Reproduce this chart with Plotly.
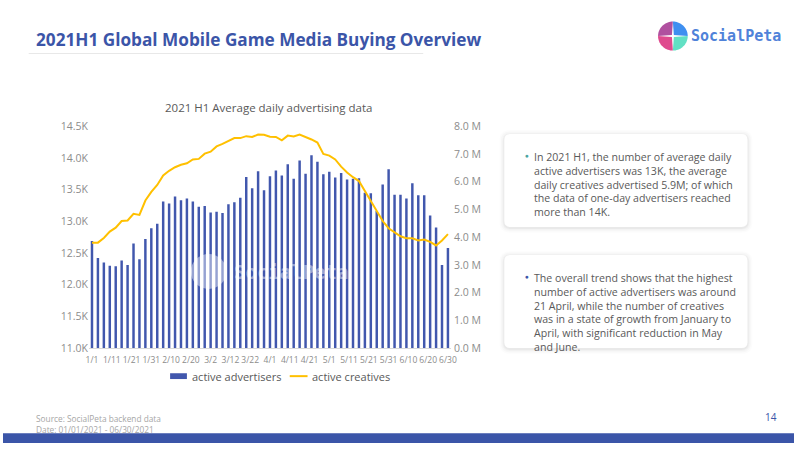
import math
import plotly.graph_objects as go

# ---------------- data ----------------
dates = [
    "2021-01-01", "2021-01-04", "2021-01-07", "2021-01-10", "2021-01-13", "2021-01-16",
    "2021-01-19", "2021-01-22", "2021-01-25", "2021-01-28", "2021-01-31",
    "2021-02-03", "2021-02-06", "2021-02-09", "2021-02-12", "2021-02-15", "2021-02-18",
    "2021-02-21", "2021-02-24", "2021-02-27",
    "2021-03-02", "2021-03-05", "2021-03-08", "2021-03-11", "2021-03-14", "2021-03-17",
    "2021-03-20", "2021-03-23", "2021-03-26", "2021-03-29",
    "2021-04-01", "2021-04-04", "2021-04-07", "2021-04-10", "2021-04-13", "2021-04-16",
    "2021-04-19", "2021-04-22", "2021-04-25", "2021-04-28",
    "2021-05-01", "2021-05-04", "2021-05-07", "2021-05-10", "2021-05-13", "2021-05-16",
    "2021-05-19", "2021-05-22", "2021-05-25", "2021-05-28", "2021-05-31",
    "2021-06-03", "2021-06-06", "2021-06-09", "2021-06-12", "2021-06-15", "2021-06-18",
    "2021-06-21", "2021-06-24", "2021-06-27", "2021-06-30",
]

active_advertisers = [
    12690, 12420, 12350, 12300, 12290, 12380, 12310, 12650, 12400, 12720,
    12890, 12960, 13310, 13280, 13390, 13330, 13360, 13310, 13230, 13240,
    13140, 13150, 13130, 13270, 13300, 13370, 13700, 13520, 13790, 13490,
    13710, 13800, 13720, 13900, 13670, 13960, 13750, 14040, 13940, 13740,
    13780, 13690, 13760, 13660, 13670, 13680, 13450, 13440, 13160, 13580,
    13820, 13420, 13420, 13360, 13600, 13410, 13410, 13090, 12900, 12310,
    12580,
]

# millions
active_creatives = [
    3.80, 3.80, 3.97, 4.20, 4.34, 4.58, 4.60, 4.84, 4.80, 5.32,
    5.63, 5.88, 6.22, 6.39, 6.52, 6.61, 6.66, 6.80, 6.82, 7.01,
    7.08, 7.27, 7.36, 7.48, 7.57, 7.57, 7.64, 7.61, 7.70, 7.69,
    7.62, 7.61, 7.49, 7.66, 7.63, 7.70, 7.62, 7.52, 7.41, 7.00,
    6.94, 6.80, 6.54, 6.33, 6.16, 6.02, 5.66, 5.31, 4.96, 4.58,
    4.32, 4.17, 4.03, 3.96, 3.96, 3.88, 3.91, 3.83, 3.70, 3.88,
    4.11,
]

tick_dates = [
    "2021-01-01", "2021-01-11", "2021-01-21", "2021-01-31", "2021-02-10", "2021-02-20",
    "2021-03-02", "2021-03-12", "2021-03-22", "2021-04-01", "2021-04-11", "2021-04-21",
    "2021-05-01", "2021-05-11", "2021-05-21", "2021-05-31", "2021-06-10", "2021-06-20",
    "2021-06-30",
]
tick_labels = [
    "1/1", "1/11", "1/21", "1/31", "2/10", "2/20", "3/2", "3/12", "3/22", "4/1",
    "4/11", "4/21", "5/1", "5/11", "5/21", "5/31", "6/10", "6/20", "6/30",
]

left_ticks = [11000, 11500, 12000, 12500, 13000, 13500, 14000, 14500]
left_labels = ["11.0K", "11.5K", "12.0K", "12.5K", "13.0K", "13.5K", "14.0K", "14.5K"]
right_ticks = [0, 1, 2, 3, 4, 5, 6, 7, 8]
right_labels = ["0.0 M", "1.0 M", "2.0 M", "3.0 M", "4.0 M", "5.0 M", "6.0 M", "7.0 M", "8.0 M"]

series_names = ["active advertisers", "active creatives"]

page_title = "2021H1 Global Mobile Game Media Buying Overview"
chart_title = "2021 H1 Average daily advertising data"
box1_lines = [
    "In 2021 H1, the number of average daily",
    "active advertisers was 13K, the average",
    "daily creatives advertised 5.9M; of which",
    "the data of one-day advertisers reached",
    "more than 14K.",
]
box2_lines = [
    "The overall trend shows that the highest",
    "number of active advertisers was around",
    "21 April, while the number of creatives",
    "was in a state of growth from January to",
    "April, with significant reduction in May",
    "and June.",
]
footer_lines = ["Source: SocialPeta backend data", "Date: 01/01/2021 - 06/30/2021"]
page_number = "14"

# ---------------- styling ----------------
W, H = 800, 450
BLUE = "#3b55a8"
BAR = "#4157ad"
GOLD = "#FFC000"
GRAY_TXT = "#8c8c8c"
TXT = "#595959"
FONT = "Open Sans"


def px(x):
    return x / W


def py(y):
    return 1 - y / H


fig = go.Figure()
fig.add_trace(go.Bar(
    x=dates, y=active_advertisers, name=series_names[0],
    marker=dict(color=BAR, line=dict(width=0)),
    width=1.25 * 86400000, yaxis="y",
))
fig.add_trace(go.Scatter(
    x=dates, y=active_creatives, name=series_names[1], mode="lines",
    line=dict(color=GOLD, width=2), yaxis="y2",
))

shapes = []
annotations = []


def rrect(x0, y0, x1, y1, r, fill):
    rx, ry = r / W, r / H
    X0, X1 = px(x0), px(x1)
    Y0, Y1 = py(y0), py(y1)  # Y0 top, Y1 bottom
    path = (f"M {X0+rx},{Y0} L {X1-rx},{Y0} Q {X1},{Y0} {X1},{Y0-ry} "
            f"L {X1},{Y1+ry} Q {X1},{Y1} {X1-rx},{Y1} L {X0+rx},{Y1} "
            f"Q {X0},{Y1} {X0},{Y1+ry} L {X0},{Y0-ry} Q {X0},{Y0} {X0+rx},{Y0} Z")
    return dict(type="path", xref="paper", yref="paper", path=path,
                fillcolor=fill, line=dict(width=0), layer="below")


# title + underline
shapes.append(dict(type="line", xref="paper", yref="paper", x0=px(26), x1=px(425),
                   y0=py(48), y1=py(48), line=dict(color="#e8e8e8", width=1)))
annotations.append(dict(x=px(31), y=py(34), xref="paper", yref="paper", xanchor="left",
                        yanchor="middle", showarrow=False, text=f"<b>{page_title}</b>",
                        font=dict(family=FONT, size=17.2, color=BLUE)))

# logo
cx, cy, r = 677.5, 30, 15
quad = [(180, 270, "#b0509f"), (270, 360, "#3f8ff0"), (90, 180, "#df4a8e"), (0, 90, "#62e0c4")]
for a0, a1, col in quad:
    mid = math.radians((a0 + a1) / 2)
    ox, oy = cx + 1.4 * math.cos(mid), cy + 1.4 * math.sin(mid)
    pts = [(ox, oy)]
    for k in range(0, 19):
        a = math.radians(a0 + (a1 - a0) * k / 18)
        pts.append((cx + r * math.cos(a), cy + r * math.sin(a)))
    p = "M " + " L ".join(f"{px(x)},{py(y)}" for x, y in pts) + " Z"
    shapes.append(dict(type="path", xref="paper", yref="paper", path=p,
                       fillcolor=col, line=dict(width=0)))
annotations.append(dict(x=px(694), y=py(30), xref="paper", yref="paper", xanchor="left",
                        yanchor="middle", showarrow=False, text="<b>SocialPeta</b>",
                        font=dict(family="DejaVu Sans Mono", size=15, color="#4f82d9")))

# chart title
annotations.append(dict(x=px(269), y=py(104), xref="paper", yref="paper", xanchor="center",
                        yanchor="middle", showarrow=False, text=chart_title,
                        font=dict(family=FONT, size=11.5, color=TXT)))

# legend (drawn by hand to match the original placement)
shapes.append(dict(type="rect", xref="paper", yref="paper", x0=px(169), x1=px(186),
                   y0=py(384), y1=py(378), fillcolor=BAR, line=dict(width=0)))
annotations.append(dict(x=px(189), y=py(381), xref="paper", yref="paper", xanchor="left",
                        yanchor="middle", showarrow=False, text=series_names[0],
                        font=dict(family=FONT, size=11, color=TXT)))
shapes.append(dict(type="line", xref="paper", yref="paper", x0=px(290), x1=px(308),
                   y0=py(381), y1=py(381), line=dict(color=GOLD, width=2)))
annotations.append(dict(x=px(310), y=py(381), xref="paper", yref="paper", xanchor="left",
                        yanchor="middle", showarrow=False, text=series_names[1],
                        font=dict(family=FONT, size=11, color=TXT)))

# watermark
shapes.append(dict(type="circle", xref="paper", yref="paper", x0=px(190), x1=px(226),
                   y0=py(291), y1=py(255), fillcolor="rgba(255,255,255,0.45)",
                   line=dict(width=0), layer="above"))
annotations.append(dict(x=px(232), y=py(273), xref="paper", yref="paper", xanchor="left",
                        yanchor="middle", showarrow=False, text="<b>SocialPeta</b>",
                        font=dict(family="DejaVu Sans Mono", size=19,
                                  color="rgba(255,255,255,0.45)")))

# text boxes with soft shadow
for (bx0, by0, bx1, by1, lines, bcol) in [
    (507, 131, 753, 227, box1_lines, "#4aa5a0"),
    (507, 256, 753, 352, box2_lines, BLUE),
]:
    for g, a in [(5, 0.012), (3.5, 0.018), (2, 0.025), (1, 0.03)]:
        shapes.append(rrect(bx0 - g, by0 - g + 1, bx1 + g, by1 + g + 1, 6 + g,
                            f"rgba(0,0,0,{a})"))
    shapes.append(rrect(bx0, by0, bx1, by1, 6, "#ffffff"))
    ty = by0 + 22.3
    annotations.append(dict(x=px(530), y=py(ty), xref="paper", yref="paper",
                            xanchor="center", yanchor="middle", showarrow=False,
                            text="●", font=dict(family=FONT, size=6.5, color=bcol)))
    annotations.append(dict(x=px(535), y=py(ty - 8), xref="paper", yref="paper",
                            xanchor="left", yanchor="top", align="left", showarrow=False,
                            text="<br>".join(lines),
                            font=dict(family=FONT, size=10.6, color=TXT)))

# footer
annotations.append(dict(x=px(31), y=py(417), xref="paper", yref="paper", xanchor="left",
                        yanchor="top", align="left", showarrow=False,
                        text="<br>".join(footer_lines),
                        font=dict(family=FONT, size=8.3, color="#a6a6a6")))
annotations.append(dict(x=px(777), y=py(423), xref="paper", yref="paper", xanchor="center",
                        yanchor="middle", showarrow=False, text=page_number,
                        font=dict(family=FONT, size=10, color=BLUE)))
shapes.append(dict(type="rect", xref="paper", yref="paper", x0=0, x1=1, y0=0, y1=py(440),
                   fillcolor=BLUE, line=dict(width=0)))

fig.update_layout(
    width=W, height=H, autosize=False, margin=dict(l=0, r=0, t=0, b=0),
    paper_bgcolor="white", plot_bgcolor="white", showlegend=False,
    font=dict(family=FONT, color=GRAY_TXT),
    xaxis=dict(type="date", domain=[px(87), px(453)],
               range=["2020-12-30 12:00", "2021-07-01 12:00"],
               tickmode="array", tickvals=tick_dates, ticktext=tick_labels, tickangle=0,
               tickfont=dict(size=8.5, color=GRAY_TXT), showgrid=False, zeroline=False,
               showline=True, linecolor="#d9d9d9", linewidth=1, ticks="", anchor="y",
               ticklabelstandoff=4),
    yaxis=dict(domain=[py(352), py(123)], range=[11000, 14500], tickmode="array",
               tickvals=left_ticks, ticktext=left_labels, showgrid=False, zeroline=False,
               tickfont=dict(size=10.5, color=GRAY_TXT), ticks="", showline=False),
    yaxis2=dict(overlaying="y", side="right", range=[0, 8], tickmode="array",
                tickvals=right_ticks, ticktext=right_labels, showgrid=False, zeroline=False,
                tickfont=dict(size=10.5, color=GRAY_TXT), ticks="", showline=False,
                anchor="x", ticklabelstandoff=2),
    shapes=shapes, annotations=annotations,
)

fig.write_html(
    "out.html",
    config={"responsive": False, "displayModeBar": False},
    post_script="document.body.style.margin='0';document.body.style.overflow='hidden';",
)
